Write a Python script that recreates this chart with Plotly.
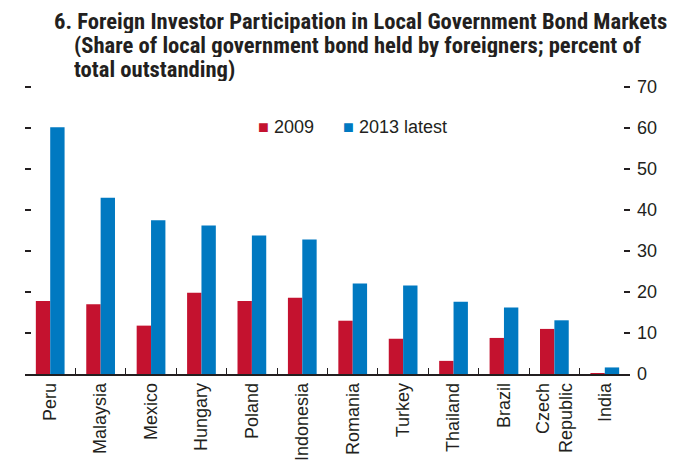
import plotly.graph_objects as go

countries = ["Peru", "Malaysia", "Mexico", "Hungary", "Poland", "Indonesia",
             "Romania", "Turkey", "Thailand", "Brazil", "Czech<br>Republic", "India"]
share_2009 = [17.8, 17.0, 11.8, 19.8, 17.8, 18.6, 13.0, 8.6, 3.2, 8.8, 11.0, 0.2]
share_2013 = [60.2, 43.0, 37.5, 36.2, 33.8, 32.8, 22.1, 21.6, 17.6, 16.2, 13.1, 1.6]
y_ticks = [0, 10, 20, 30, 40, 50, 60, 70]
series_names = ["2009", "2013 latest"]

RED = "#C4122F"
BLUE = "#0079C1"
TEXT = "#231F20"
FONT = "Liberation Sans, Arial, sans-serif"
TITLE_FONT = "Roboto Condensed, Liberation Sans Narrow, sans-serif"

Y_RANGE = [0, 70.5]

fig = go.Figure()
fig.add_trace(go.Bar(x=countries, y=share_2009, name=series_names[0],
                     marker=dict(color=RED, line_width=0)))
fig.add_trace(go.Bar(x=countries, y=share_2013, name=series_names[1],
                     marker=dict(color=BLUE, line_width=0)))
# invisible trace to carry the right-hand axis
fig.add_trace(go.Scatter(x=countries, y=[None] * len(countries), yaxis="y2",
                         mode="lines", showlegend=False, hoverinfo="skip"))

fig.update_layout(
    width=682, height=460,
    margin=dict(l=25, r=52, t=85, b=86),
    paper_bgcolor="white", plot_bgcolor="white",
    barmode="group", bargap=0.43, bargroupgap=0,
    font=dict(family=FONT, size=17, color=TEXT),
    showlegend=False,
    xaxis=dict(
        automargin=False,
        range=[-0.5, len(countries) - 0.5],
        showline=True, linecolor=TEXT, linewidth=1.5,
        ticks="inside", ticklen=6, tickcolor=TEXT, tickson="boundaries",
        tickangle=-90, tickfont=dict(size=18, color=TEXT),
        showgrid=False, zeroline=False,
    ),
    yaxis=dict(
        automargin=False,
        range=Y_RANGE, tickvals=y_ticks, showticklabels=False,
        ticks="inside", ticklen=6, tickcolor=TEXT, tickwidth=1.5,
        showline=False, showgrid=False, zeroline=False,
    ),
    yaxis2=dict(
        automargin=False,
        range=Y_RANGE, tickvals=y_ticks, overlaying="y", side="right",
        ticks="inside", ticklen=6, tickcolor=TEXT, tickwidth=1.5,
        ticklabelstandoff=6,
        tickfont=dict(size=18, color=TEXT),
        showline=False, showgrid=False, zeroline=False,
    ),
)

# compact legend: coloured square followed by the series name
plot_h = 460 - 85 - 86
legend_items = [(series_names[0], RED, 256), (series_names[1], BLUE, 341)]
for name, color, px in legend_items:
    fig.add_annotation(
        text=f"<span style='color:{color}'>■</span> {name}",
        xref="paper", yref="paper",
        x=(px - 25) / 605, y=(374 - 127) / plot_h,
        xanchor="left", yanchor="middle", showarrow=False,
        font=dict(size=18, color=TEXT),
    )

# three title lines, 24 px apart, with the continuation lines indented
title_lines = [
    ("6. Foreign Investor Participation in Local Government Bond Markets", 52, 8),
    ("(Share of local government bond held by foreigners; percent of", 72, 32),
    ("total outstanding)", 72, 56),
]
for text, px, py in title_lines:
    fig.add_annotation(
        text=f"<b>{text}</b>", xref="paper", yref="paper",
        x=(px - 25) / 605, y=1 + (85 - py) / plot_h,
        xanchor="left", yanchor="top", showarrow=False,
        height=23, valign="middle",
        font=dict(family=TITLE_FONT, size=22.6, color=TEXT),
    )

fig.write_html("out.html")
